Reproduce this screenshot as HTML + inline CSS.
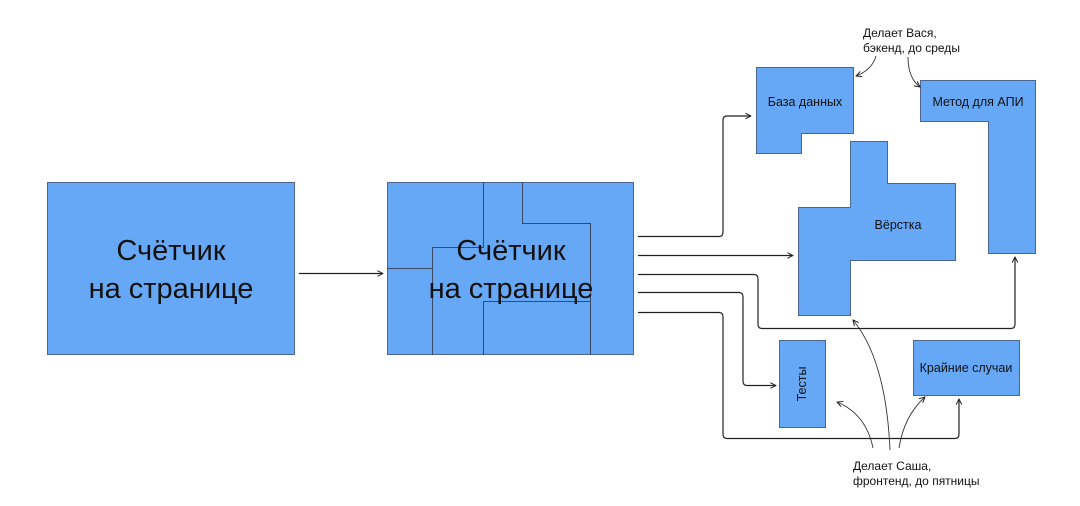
<!DOCTYPE html>
<html><head><meta charset="utf-8"><style>
html,body{margin:0;padding:0;background:#fff;}
svg{display:block;}
text{font-family:"Liberation Sans",sans-serif;fill:#111;}
</style></head><body>
<svg width="1080" height="506" viewBox="0 0 1080 506" xmlns="http://www.w3.org/2000/svg">
<defs>
<marker id="a" viewBox="0 0 10 10" refX="9" refY="5" markerWidth="7" markerHeight="7" orient="auto-start-reverse" markerUnits="userSpaceOnUse">
<path d="M1,1 L9,5 L1,9" fill="none" stroke="#222" stroke-width="1.4"/>
</marker>
</defs>
<g fill="#66a8f6" stroke="#4a6590" stroke-width="1">
<rect x="47.5" y="182.5" width="247" height="172"/>
<rect x="387.5" y="182.5" width="246" height="172"/>
<polygon points="756.5,67.5 853.5,67.5 853.5,133.5 801.5,133.5 801.5,153.5 756.5,153.5"/>
<polygon points="920.5,80.5 1035.5,80.5 1035.5,253.5 988.5,253.5 988.5,121.5 920.5,121.5"/>
<polygon points="850.5,141.5 887.5,141.5 887.5,183.5 955.5,183.5 955.5,260.5 850.5,260.5 850.5,315.5 798.5,315.5 798.5,207.5 850.5,207.5"/>
<rect x="779.5" y="340.5" width="46" height="87"/>
<rect x="913.5" y="340.5" width="106" height="55"/>
</g>
<g fill="none" stroke="#3a4a66" stroke-width="1">
<path d="M483.5,182 V247.5 H432.5 V355"/>
<path d="M522.5,182 V223.5 H590.5 V355"/>
<path d="M387,268.5 H432.5"/>
<path d="M483.5,355 V301.5 H590.5"/>
</g>
<g font-size="29" text-anchor="middle">
<text x="171" y="260">Счётчик</text>
<text x="171" y="298">на странице</text>
<text x="511" y="260">Счётчик</text>
<text x="511" y="298">на странице</text>
</g>
<g font-size="12.5" text-anchor="middle">
<text x="805" y="106">База данных</text>
<text x="978" y="106">Метод для АПИ</text>
<text x="898" y="229">Вёрстка</text>
<text x="966" y="372">Крайние случаи</text>
<text transform="translate(806,384) rotate(-90)">Тесты</text>
</g>
<g font-size="12">
<text x="863" y="37">Делает Вася,</text>
<text x="863" y="52">бэкенд, до среды</text>
<text x="853" y="470">Делает Саша,</text>
<text x="853" y="485">фронтенд, до пятницы</text>
</g>
<g fill="none" stroke="#222" stroke-width="1.2">
<path d="M299,273.5 H383" marker-end="url(#a)"/>
<path d="M638,236.5 H719 Q723,236.5 723,232 V120 Q723,116 727,116 H751" marker-end="url(#a)"/>
<path d="M638,255.5 H793" marker-end="url(#a)"/>
<path d="M638,274.5 H754 Q758,274.5 758,279 V324 Q758,328.5 762,328.5 H1011 Q1015,328.5 1015,324 V257" marker-end="url(#a)"/>
<path d="M638,292.5 H739 Q743,292.5 743,297 V381 Q743,385.5 747,385.5 H776" marker-end="url(#a)"/>
<path d="M638,312.5 H719 Q723,312.5 723,317 V434 Q723,438.5 727,438.5 H955 Q959,438.5 959,434 V399" marker-end="url(#a)"/>
</g>
<g fill="none" stroke="#333" stroke-width="0.9">
<path d="M876,56 Q872,70 856,76" marker-end="url(#a)"/>
<path d="M908,57 Q908,78 920,87" marker-end="url(#a)"/>
<path d="M873,448 Q866,414 837,402" marker-end="url(#a)"/>
<path d="M890,450 Q886,360 853,320" marker-end="url(#a)"/>
<path d="M899,448 Q904,416 925,397" marker-end="url(#a)"/>
</g>
</svg>
</body></html>
